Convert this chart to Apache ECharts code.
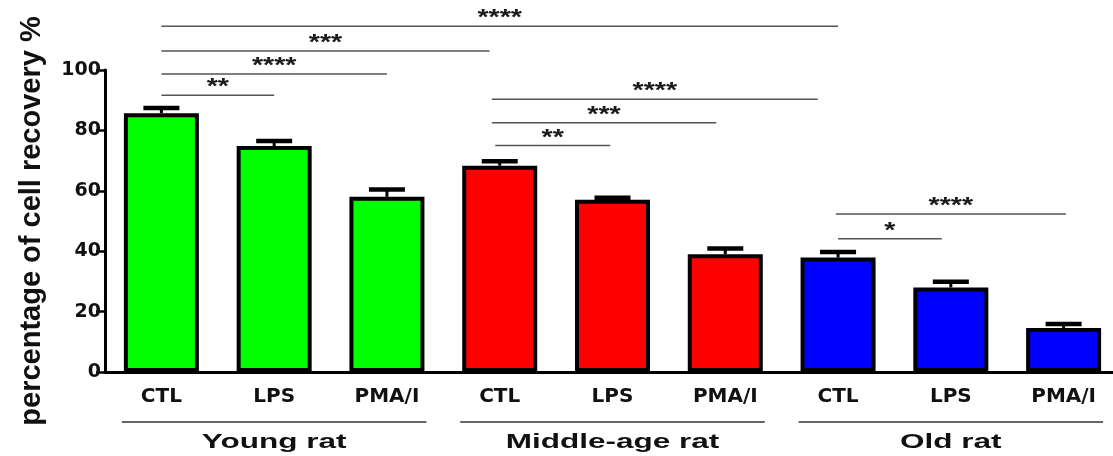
<!DOCTYPE html>
<html>
<head>
<meta charset="utf-8">
<script src="https://cdn.jsdelivr.net/npm/echarts@6/dist/echarts.min.js"></script>
<style>html,body{margin:0;padding:0;background:#fff}#c{width:1113px;height:456px}</style>
</head>
<body>
<div id="c"></div>
<script>
// ---- data ----
const categories = ['CTL', 'LPS', 'PMA/I', 'CTL', 'LPS', 'PMA/I', 'CTL', 'LPS', 'PMA/I'];
const groupNames = ['Young rat', 'Middle-age rat', 'Old rat'];
const means = [85.7, 74.8, 58.0, 68.3, 57.0, 39.0, 37.9, 28.0, 14.6];
const sems = [1.8, 1.8, 2.5, 1.6, 0.8, 2.0, 1.9, 2.0, 1.4];
const groupColors = ['#00FF00', '#FF0000', '#0000FF'];
const yTicks = [0, 20, 40, 60, 80, 100];
// significance brackets (positions in category units)
const sigFrom = [0, 0, 0, 0, 2.93, 2.93, 2.96, 5.98, 6.0];
const sigTo = [6.0, 2.91, 2.0, 1.0, 5.82, 4.92, 3.98, 8.02, 6.92];
const sigHeight = [114.5, 106.3, 98.7, 91.6, 90.3, 82.5, 75.0, 52.3, 44.1];
const sigMark = ['****', '***', '****', '**', '****', '***', '**', '****', '*'];

const chart = echarts.init(document.getElementById('c'));
const BAR_W = 75;

function px(api, v) {
  const c0 = api.coord([0, 0])[0];
  const w = api.size([1, 0])[0];
  return c0 + v * w;
}

chart.setOption({
  animation: false,
  backgroundColor: '#fff',
  grid: { left: 105, right: -7, top: 70, bottom: 84, outerBoundsMode: 'none', containLabel: false },
  xAxis: {
    type: 'category',
    data: categories,
    axisLine: { lineStyle: { color: '#000', width: 3 } },
    axisTick: { alignWithLabel: true, length: 7, lineStyle: { color: '#000', width: 3 } },
    axisLabel: { interval: 0, margin: 15, color: '#111', fontFamily: 'DejaVu Sans', fontWeight: 'bold', fontSize: 20 },
    splitLine: { show: false }
  },
  yAxis: {
    type: 'value',
    min: yTicks[0], max: yTicks[yTicks.length - 1], interval: 20,
    name: 'percentage of cell recovery %',
    nameLocation: 'middle',
    nameGap: 59,
    nameTextStyle: { fontFamily: 'Liberation Sans', fontWeight: 'bold', fontSize: 29, color: '#111' },
    axisLine: { show: true, lineStyle: { color: '#000', width: 3 } },
    axisTick: { show: true, length: 9, lineStyle: { color: '#000', width: 2.5 } },
    axisLabel: { margin: 4, color: '#111', fontFamily: 'DejaVu Sans', fontWeight: 'bold', fontSize: 19 },
    splitLine: { show: false }
  },
  series: [
    {
      type: 'custom',
      name: 'errors',
      z: 1,
      data: means.map((m, i) => [i, m + sems[i]]),
      renderItem: function (params, api) {
        const i = params.dataIndex;
        const base = api.coord([i, means[i]]);
        const top = api.coord([i, means[i] + sems[i]]);
        return {
          type: 'group',
          children: [
            { type: 'line', shape: { x1: base[0], y1: base[1], x2: top[0], y2: top[1] }, style: { stroke: '#000', lineWidth: 3 } },
            { type: 'rect', shape: { x: top[0] - 18, y: top[1] - 2, width: 36, height: 4.5 }, style: { fill: '#000' } }
          ]
        };
      }
    },
    {
      type: 'bar',
      z: 2,
      barWidth: BAR_W,
      data: means.map((m, i) => ({ value: m, itemStyle: { color: groupColors[Math.floor(i / 3)] } })),
      itemStyle: { borderColor: '#000', borderWidth: 4 }
    },
    {
      type: 'custom',
      name: 'sig',
      z: 3,
      data: sigHeight.map((h) => [0, h]),
      renderItem: function (params, api) {
        const i = params.dataIndex;
        const y = api.coord([0, sigHeight[i]])[1];
        const x1 = px(api, sigFrom[i]);
        const x2 = px(api, sigTo[i]);
        return {
          type: 'group',
          children: [
            { type: 'line', shape: { x1: x1, y1: y, x2: x2, y2: y }, style: { stroke: '#555', lineWidth: 1.5 } },
            {
              type: 'text', x: (x1 + x2) / 2, y: y - 8, scaleX: 1.3,
              style: { text: sigMark[i], textAlign: 'center', textVerticalAlign: 'middle', fill: '#1a1a1a',
                       font: 'bold 22px "Liberation Sans"' }
            }
          ]
        };
      }
    },
    {
      type: 'custom',
      name: 'groups',
      z: 3,
      data: groupNames.map((g, k) => [k * 3, 0]),
      renderItem: function (params, api) {
        const k = params.dataIndex;
        const y0 = api.coord([0, 0])[1];
        const xl = api.coord([k * 3, 0])[0] - BAR_W / 2 - 2;
        const xr = api.coord([k * 3 + 2, 0])[0] + BAR_W / 2 + 2;
        return {
          type: 'group',
          children: [
            { type: 'line', shape: { x1: xl, y1: y0 + 50, x2: xr, y2: y0 + 50 }, style: { stroke: '#333', lineWidth: 1.5 } },
            {
              type: 'text', x: (xl + xr) / 2, y: y0 + 70, scaleX: 1.5,
              style: { text: groupNames[k], textAlign: 'center', textVerticalAlign: 'middle', fill: '#111',
                       font: 'bold 21px "Liberation Sans"' }
            }
          ]
        };
      }
    }
  ]
});
</script>
</body>
</html>
